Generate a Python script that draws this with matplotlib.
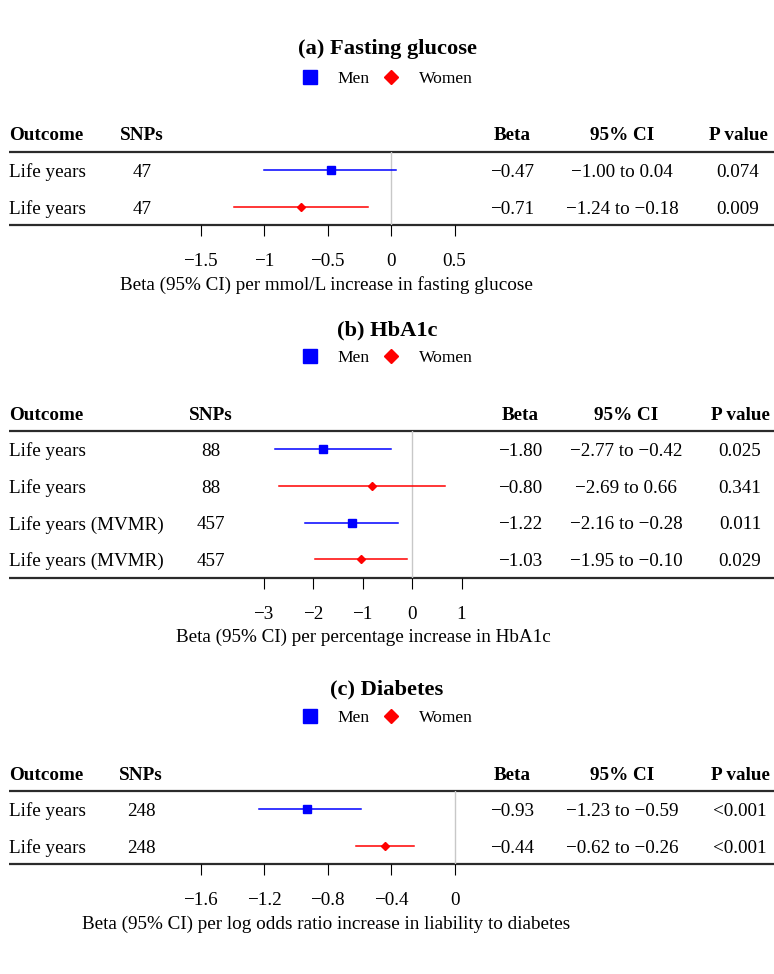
import matplotlib
matplotlib.use('Agg')
import matplotlib.pyplot as plt
from matplotlib.lines import Line2D

plt.rcParams['font.family'] = ['Liberation Serif', 'DejaVu Serif']

W, H = 774, 974

# ---- data, one set of lists per panel ----
titles = ['(a) Fasting glucose', '(b) HbA1c', '(c) Diabetes']
xlabels = ['Beta (95% CI) per mmol/L increase in fasting glucose',
           'Beta (95% CI) per percentage increase in HbA1c',
           'Beta (95% CI) per log odds ratio increase in liability to diabetes']

outcome_a = ['Life years', 'Life years']
snps_a = [47, 47]
sex_a = ['Men', 'Women']
beta_a = [-0.47, -0.71]
lo_a = [-1.00, -1.24]
hi_a = [0.04, -0.18]
p_a = ['0.074', '0.009']
ticks_a = [-1.5, -1, -0.5, 0, 0.5]
ticklab_a = ['\u22121.5', '\u22121', '\u22120.5', '0', '0.5']

outcome_b = ['Life years', 'Life years', 'Life years (MVMR)', 'Life years (MVMR)']
snps_b = [88, 88, 457, 457]
sex_b = ['Men', 'Women', 'Men', 'Women']
beta_b = [-1.80, -0.80, -1.22, -1.03]
lo_b = [-2.77, -2.69, -2.16, -1.95]
hi_b = [-0.42, 0.66, -0.28, -0.10]
p_b = ['0.025', '0.341', '0.011', '0.029']
ticks_b = [-3, -2, -1, 0, 1]
ticklab_b = ['\u22123', '\u22122', '\u22121', '0', '1']

outcome_c = ['Life years', 'Life years']
snps_c = [248, 248]
sex_c = ['Men', 'Women']
beta_c = [-0.93, -0.44]
lo_c = [-1.23, -0.62]
hi_c = [-0.59, -0.26]
p_c = ['<0.001', '<0.001']
ticks_c = [-1.6, -1.2, -0.8, -0.4, 0]
ticklab_c = ['\u22121.6', '\u22121.2', '\u22120.8', '\u22120.4', '0']

# ---- layout in pixels ----
layout = [
    dict(title_y=49, leg_y=79, top=152, snp_x=142, beta_x=512, ci_x=622, p_x=738,
         zero=391, ppu=127.0, left=170, right=482),
    dict(title_y=330, leg_y=358, top=431, snp_x=211, beta_x=520, ci_x=626, p_x=740,
         zero=412, ppu=49.5, left=250, right=476),
    dict(title_y=689, leg_y=718, top=791, snp_x=141, beta_x=512, ci_x=622, p_x=740,
         zero=455, ppu=159.0, left=180, right=472),
]
ROW_H = 36.7
colors = {'Men': '#0000FF', 'Women': '#FF0000'}
markers = {'Men': 's', 'Women': 'D'}
msize = {'Men': 5.5, 'Women': 3.8}
FS = 13.8


def fmt(v):
    return '{:.2f}'.format(v).replace('-', '\u2212')


fig = plt.figure(figsize=(W / 100, H / 100), dpi=100)
bg = fig.add_axes([0, 0, 1, 1])
bg.set_xlim(0, W)
bg.set_ylim(H, 0)
bg.axis('off')

panels = [
    (outcome_a, snps_a, sex_a, beta_a, lo_a, hi_a, p_a, ticks_a, ticklab_a),
    (outcome_b, snps_b, sex_b, beta_b, lo_b, hi_b, p_b, ticks_b, ticklab_b),
    (outcome_c, snps_c, sex_c, beta_c, lo_c, hi_c, p_c, ticks_c, ticklab_c),
]

for k, (outc, snps, sex, beta, lo, hi, pv, ticks, ticklab) in enumerate(panels):
    L = layout[k]
    n = len(outc)
    top = L['top']
    bottom = top + n * ROW_H

    bg.text(W / 2, L['title_y'], titles[k], ha='center', va='center',
            fontsize=16.2, fontweight='bold')

    # header
    hy = top - 16
    bold = dict(va='center', fontsize=FS, fontweight='bold')
    bg.text(9, hy, 'Outcome', ha='left', **bold)
    bg.text(L['snp_x'], hy, 'SNPs', ha='center', **bold)
    bg.text(L['beta_x'], hy, 'Beta', ha='center', **bold)
    bg.text(L['ci_x'], hy, '95% CI', ha='center', **bold)
    bg.text(L['p_x'], hy, 'P value', ha='center', **bold)

    bg.plot([9, W], [top, top], color='#2b2b2b', lw=1.6, solid_capstyle='butt')
    bg.plot([9, W], [bottom, bottom], color='#2b2b2b', lw=1.6, solid_capstyle='butt')

    for i in range(n):
        ry = top + (i + 0.5) * ROW_H + 2
        bg.text(9, ry, outc[i], ha='left', va='center', fontsize=FS)
        bg.text(L['snp_x'], ry, str(snps[i]), ha='center', va='center', fontsize=FS)
        bg.text(L['beta_x'], ry, fmt(beta[i]), ha='center', va='center', fontsize=FS)
        bg.text(L['ci_x'], ry, fmt(lo[i]) + ' to ' + fmt(hi[i]), ha='center', va='center', fontsize=FS)
        bg.text(L['p_x'], ry, pv[i], ha='center', va='center', fontsize=FS)

    # forest column
    left, right = L['left'], L['right']
    ax = fig.add_axes([left / W, 1 - bottom / H, (right - left) / W, (bottom - top) / H])
    ax.set_facecolor('none')
    ax.set_xlim((left - L['zero']) / L['ppu'], (right - L['zero']) / L['ppu'])
    ax.set_ylim(n - 0.5, -0.5)
    for s in ax.spines.values():
        s.set_visible(False)
    ax.set_yticks([])
    ax.axvline(0, color='#c8c8c8', lw=1, zorder=1)
    for i in range(n):
        c = colors[sex[i]]
        ax.plot([lo[i], hi[i]], [i, i], color=c, lw=1.1, zorder=2)
        ax.plot(beta[i], i, marker=markers[sex[i]], ms=msize[sex[i]], color=c,
                ls='none', zorder=3)
    ax.set_xticks(ticks)
    ax.set_xticklabels(ticklab, fontsize=FS)
    ax.tick_params(axis='x', length=8, width=0.8, pad=12)
    ax.set_xlabel(xlabels[k], fontsize=FS, labelpad=4.5)

    # legend
    handles = [Line2D([], [], ls='none', marker='s', ms=9.5, color=colors['Men']),
               Line2D([], [], ls='none', marker='D', ms=7.5, color=colors['Women'])]
    fig.legend(handles, ['Men', 'Women'], loc='center',
               bbox_to_anchor=(387 / W, 1 - L['leg_y'] / H),
               ncol=2, frameon=False, fontsize=12.6, handlelength=1.0,
               handletextpad=1.1, columnspacing=0.7, borderpad=0)

fig.savefig('out.png', dpi=100)
